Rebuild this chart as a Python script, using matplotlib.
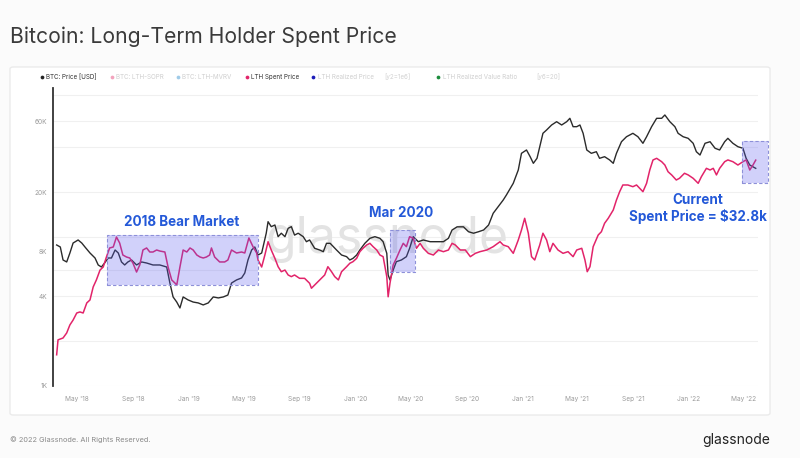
import matplotlib
matplotlib.use("Agg")
import matplotlib.pyplot as plt
import matplotlib.dates as mdates
from matplotlib.patches import Rectangle, FancyBboxPatch
from matplotlib.lines import Line2D
from matplotlib.ticker import NullLocator
import pandas as pd

plt.rcParams['font.family'] = ['Inter', 'DejaVu Sans']

# ---------------- data (USD, thousands) ----------------
price_dates = [
    "2018-03-18", "2018-03-26", "2018-04-01", "2018-04-09", "2018-04-16", "2018-04-23", "2018-05-04", "2018-05-12", "2018-05-19", "2018-05-30",
    "2018-06-10", "2018-06-17", "2018-06-24", "2018-07-01", "2018-07-09", "2018-07-16", "2018-07-24", "2018-07-31", "2018-08-07", "2018-08-14",
    "2018-08-21", "2018-08-29", "2018-09-09", "2018-09-20", "2018-10-01", "2018-10-15", "2018-10-30", "2018-11-14", "2018-11-21", "2018-11-28",
    "2018-12-06", "2018-12-13", "2018-12-20", "2018-12-31", "2019-01-11", "2019-01-22", "2019-02-02", "2019-02-13", "2019-02-24", "2019-03-07",
    "2019-03-18", "2019-03-28", "2019-04-05", "2019-04-16", "2019-04-27", "2019-05-04", "2019-05-11", "2019-05-19", "2019-05-26", "2019-06-02",
    "2019-06-10", "2019-06-20", "2019-06-24", "2019-07-01", "2019-07-09", "2019-07-16", "2019-07-23", "2019-07-31", "2019-08-07", "2019-08-14",
    "2019-08-21", "2019-08-29", "2019-09-09", "2019-09-16", "2019-09-23", "2019-10-04", "2019-10-15", "2019-10-23", "2019-10-30", "2019-11-07",
    "2019-11-14", "2019-11-21", "2019-12-02", "2019-12-13", "2019-12-20", "2019-12-27", "2020-01-04", "2020-01-11", "2020-01-22", "2020-02-02",
    "2020-02-13", "2020-02-24", "2020-03-02", "2020-03-10", "2020-03-13", "2020-03-17", "2020-03-24", "2020-03-31", "2020-04-11", "2020-04-22",
    "2020-04-29", "2020-05-07", "2020-05-18", "2020-05-29", "2020-06-13", "2020-06-28", "2020-07-12", "2020-07-23", "2020-07-31", "2020-08-11",
    "2020-08-25", "2020-09-05", "2020-09-16", "2020-09-27", "2020-10-08", "2020-10-19", "2020-10-29", "2020-11-09", "2020-11-20", "2020-11-27",
    "2020-12-12", "2020-12-23", "2020-12-30", "2021-01-10", "2021-01-18", "2021-01-25", "2021-02-02", "2021-02-08", "2021-02-15", "2021-02-23",
    "2021-03-06", "2021-03-17", "2021-03-28", "2021-04-08", "2021-04-15", "2021-04-22", "2021-04-30", "2021-05-07", "2021-05-14", "2021-05-22",
    "2021-06-01", "2021-06-12", "2021-06-19", "2021-06-30", "2021-07-11", "2021-07-19", "2021-07-26", "2021-08-06", "2021-08-17", "2021-08-31",
    "2021-09-11", "2021-09-22", "2021-09-30", "2021-10-11", "2021-10-22", "2021-11-02", "2021-11-09", "2021-11-20", "2021-12-01", "2021-12-08",
    "2021-12-19", "2021-12-30", "2022-01-10", "2022-01-17", "2022-01-25", "2022-02-05", "2022-02-16", "2022-02-27", "2022-03-09", "2022-03-20",
    "2022-03-27", "2022-04-07", "2022-04-18", "2022-04-29", "2022-05-06", "2022-05-14", "2022-05-21", "2022-05-27",
]
price_k = [
    8.84, 8.57, 7.01, 6.80, 7.81, 9.11, 9.55, 9.11, 8.57, 7.81,
    7.23, 6.49, 6.29, 6.69, 7.23, 7.23, 8.18, 7.81, 6.80, 6.49,
    6.80, 7.01, 6.49, 6.80, 6.69, 6.49, 6.49, 6.29, 4.91, 3.96,
    3.66, 3.34, 3.96, 3.78, 3.66, 3.61, 3.50, 3.61, 3.96, 3.90,
    3.96, 4.08, 4.91, 5.15, 5.31, 5.73, 7.01, 8.18, 8.57, 7.57,
    7.81, 10.6, 12.67, 11.73, 12.04, 10.05, 10.6, 10.05, 11.44, 11.73,
    10.3, 10.6, 10.05, 9.30, 9.55, 8.40, 8.18, 7.97, 9.07, 9.07,
    8.61, 8.18, 7.57, 7.38, 7.01, 7.19, 7.57, 8.18, 9.07, 9.80,
    10.05, 9.80, 9.30, 7.77, 5.56, 5.15, 6.00, 6.83, 7.01, 7.38,
    8.40, 10.05, 9.30, 9.55, 9.30, 9.30, 9.30, 9.80, 11.14, 11.7,
    11.7, 10.85, 10.6, 10.85, 11.14, 12.04, 14.42, 15.97, 17.71, 19.14,
    22.93, 28.17, 36.45, 38.37, 34.59, 31.23, 33.74, 40.37, 49.65, 52.26,
    56.46, 59.4, 56.46, 59.4, 62.6, 55.0, 55.0, 56.46, 49.65, 38.37,
    36.45, 37.36, 33.74, 34.59, 32.9, 31.23, 36.45, 43.6, 47.1, 49.65,
    47.1, 42.55, 47.1, 55.0, 62.6, 62.6, 65.9, 59.4, 55.0, 49.65,
    47.1, 45.96, 42.55, 37.36, 35.5, 42.55, 43.6, 39.4, 38.37, 43.6,
    45.96, 42.55, 40.37, 39.4, 33.74, 30.4, 29.6, 28.9,
]

spent_dates = [
    "2018-03-18", "2018-03-21", "2018-04-01", "2018-04-09", "2018-04-16", "2018-04-23", "2018-05-01", "2018-05-08", "2018-05-15", "2018-05-23",
    "2018-05-30", "2018-06-06", "2018-06-13", "2018-06-21", "2018-06-28", "2018-07-05", "2018-07-12", "2018-07-20", "2018-07-27", "2018-08-03",
    "2018-08-10", "2018-08-18", "2018-08-25", "2018-09-01", "2018-09-09", "2018-09-16", "2018-09-23", "2018-10-01", "2018-10-08", "2018-10-15",
    "2018-10-23", "2018-10-30", "2018-11-10", "2018-11-17", "2018-11-25", "2018-12-02", "2018-12-06", "2018-12-13", "2018-12-20", "2018-12-28",
    "2019-01-04", "2019-01-11", "2019-01-19", "2019-01-26", "2019-02-02", "2019-02-09", "2019-02-16", "2019-02-20", "2019-02-27", "2019-03-10",
    "2019-03-21", "2019-03-28", "2019-04-05", "2019-04-16", "2019-04-27", "2019-05-04", "2019-05-13", "2019-05-22", "2019-05-30", "2019-06-02",
    "2019-06-10", "2019-06-17", "2019-06-24", "2019-07-01", "2019-07-09", "2019-07-16", "2019-07-23", "2019-07-31", "2019-08-07", "2019-08-14",
    "2019-08-21", "2019-09-01", "2019-09-12", "2019-09-23", "2019-09-27", "2019-10-04", "2019-10-15", "2019-10-26", "2019-11-02", "2019-11-10",
    "2019-11-17", "2019-11-25", "2019-12-02", "2019-12-13", "2019-12-20", "2019-12-27", "2020-01-04", "2020-01-11", "2020-01-18", "2020-01-26",
    "2020-02-02", "2020-02-09", "2020-02-17", "2020-02-24", "2020-03-02", "2020-03-10", "2020-03-13", "2020-03-17", "2020-03-24", "2020-03-31",
    "2020-04-08", "2020-04-15", "2020-04-22", "2020-04-29", "2020-05-07", "2020-05-14", "2020-05-22", "2020-05-29", "2020-06-09", "2020-06-20",
    "2020-07-01", "2020-07-12", "2020-07-23", "2020-07-31", "2020-08-07", "2020-08-18", "2020-08-29", "2020-09-09", "2020-09-20", "2020-09-30",
    "2020-10-15", "2020-10-29", "2020-11-13", "2020-11-20", "2020-12-01", "2020-12-12", "2020-12-23", "2020-12-30", "2021-01-06", "2021-01-14",
    "2021-01-21", "2021-01-28", "2021-02-08", "2021-02-15", "2021-02-23", "2021-03-02", "2021-03-09", "2021-03-20", "2021-03-31", "2021-04-11",
    "2021-04-22", "2021-04-30", "2021-05-11", "2021-05-18", "2021-05-23", "2021-05-29", "2021-06-05", "2021-06-16", "2021-06-23", "2021-06-30",
    "2021-07-08", "2021-07-19", "2021-07-26", "2021-08-02", "2021-08-09", "2021-08-20", "2021-08-31", "2021-09-08", "2021-09-15", "2021-09-22",
    "2021-09-30", "2021-10-07", "2021-10-14", "2021-10-22", "2021-11-02", "2021-11-09", "2021-11-16", "2021-11-24", "2021-12-04", "2021-12-11",
    "2021-12-22", "2021-12-30", "2022-01-10", "2022-01-21", "2022-01-28", "2022-02-08", "2022-02-16", "2022-02-23", "2022-03-02", "2022-03-09",
    "2022-03-20", "2022-03-27", "2022-04-07", "2022-04-18", "2022-04-29", "2022-05-06", "2022-05-14", "2022-05-21", "2022-05-27",
]
spent_k = [
    1.62, 2.04, 2.10, 2.27, 2.57, 2.77, 3.09, 3.14, 3.09, 3.61,
    3.78, 4.62, 5.15, 6.00, 6.29, 7.34, 8.44, 8.57, 10.0, 9.11,
    7.57, 7.34, 7.23, 6.69, 5.82, 6.49, 8.18, 8.44, 7.93, 7.93,
    8.18, 8.05, 7.93, 6.29, 5.15, 4.91, 4.76, 6.29, 8.18, 7.93,
    8.44, 8.18, 7.57, 7.34, 7.23, 7.34, 7.57, 8.44, 7.34, 6.80,
    6.80, 7.01, 8.18, 7.81, 7.93, 7.81, 9.85, 8.61, 7.81, 7.01,
    6.29, 7.57, 9.30, 8.18, 7.19, 6.32, 5.85, 6.00, 5.56, 5.42,
    5.56, 5.28, 5.28, 4.89, 4.53, 4.76, 5.15, 5.56, 6.32, 5.85,
    5.42, 5.15, 5.85, 6.32, 6.66, 6.83, 7.19, 7.97, 8.40, 8.84,
    9.07, 8.61, 8.18, 7.57, 7.38, 5.42, 3.97, 4.89, 6.49, 7.19,
    8.18, 9.07, 8.61, 10.05, 9.80, 8.40, 9.07, 8.40, 7.77, 7.57,
    8.18, 7.97, 8.18, 9.07, 8.84, 8.18, 8.18, 7.38, 7.77, 7.97,
    8.18, 8.61, 9.30, 8.84, 8.61, 7.77, 9.55, 11.14, 13.35, 10.59,
    7.38, 7.01, 8.84, 10.6, 9.55, 7.97, 9.07, 8.18, 7.77, 7.97,
    7.38, 8.18, 8.40, 7.01, 5.85, 6.32, 8.61, 10.31, 10.85, 12.36,
    13.35, 15.18, 17.71, 20.14, 22.34, 22.34, 21.76, 22.34, 21.22, 20.14,
    22.93, 28.17, 32.87, 33.74, 32.02, 30.42, 27.42, 26.07, 24.13, 24.77,
    26.77, 26.1, 24.77, 22.93, 25.39, 28.9, 28.17, 28.9, 26.1, 28.9,
    32.02, 32.9, 32.02, 30.42, 32.02, 32.9, 28.17, 30.42, 32.8,
]

x_tick_dates = ["2018-05-01", "2018-09-01", "2019-01-01", "2019-05-01", "2019-09-01", "2020-01-01", "2020-05-01",
                "2020-09-01", "2021-01-01", "2021-05-01", "2021-09-01", "2022-01-01", "2022-05-01"]
x_tick_labels = ["May '18", "Sep '18", "Jan '19", "May '19", "Sep '19", "Jan '20", "May '20",
                 "Sep '20", "Jan '21", "May '21", "Sep '21", "Jan '22", "May '22"]
y_tick_values = [1000, 4000, 8000, 20000, 60000]
y_tick_labels = ["1K", "4K", "8K", "20K", "60K"]
grid_values = [1000, 2000, 4000, 6000, 10000, 20000, 40000, 60000, 90000]

# highlight boxes: (start, end, low, high)
highlight_boxes = [
    ("2018-07-06", "2019-06-01", 4770, 10300),
    ("2020-03-17", "2020-05-10", 5830, 11100),
    ("2022-04-27", "2022-06-22", 23000, 44100),
]

legend_items = [
    ("BTC: Price [USD]", "#222222", "#333333"),
    ("BTC: LTH-SOPR", "#f3a3bd", "#cfcfcf"),
    ("BTC: LTH-MVRV", "#9fcbe8", "#cfcfcf"),
    ("LTH Spent Price", "#e2246a", "#333333"),
    ("LTH Realized Price", "#1c1cb8", "#cfcfcf"),
    ("[y2=1e6]", None, "#d2d2d2"),
    ("LTH Realized Value Ratio", "#1c8c3c", "#cfcfcf"),
    ("[y6=20]", None, "#d2d2d2"),
]
legend_x_px = [41.7, 111.7, 177.7, 246.7, 313.3, 384, 438.3, 536]

# ---------------- figure ----------------
W, H = 800, 458
fig = plt.figure(figsize=(W / 100, H / 100), dpi=100, facecolor="#fbfbfb")

panel = FancyBboxPatch((10 / W, 1 - 415 / H), 760 / W, 348 / H,
                       boxstyle="round,pad=0,rounding_size=0.004",
                       transform=fig.transFigure, facecolor="white",
                       edgecolor="#ebebeb", lw=1.0, zorder=0)
fig.add_artist(panel)

ax = fig.add_axes([53 / W, 1 - 386 / H, (758 - 53) / W, (386 - 88) / H])
ax.set_facecolor("none")

pd_price = pd.to_datetime(price_dates)
pd_spent = pd.to_datetime(spent_dates)
price = [v * 1000 for v in price_k]
spent = [v * 1000 for v in spent_k]

ax.set_yscale("log")
ax.set_ylim(1000, 100000)
ax.set_xlim(pd.Timestamp("2018-03-10"), pd.Timestamp("2022-06-01"))

for g in grid_values:
    ax.axhline(g, color="#f0f0f0", lw=0.8, zorder=0)

ax.text(0.474, 0.49, "glassnode", transform=ax.transAxes, ha="center", va="center",
        fontsize=36, color="#e3e3e3", zorder=0.5)

ax.plot(pd_price, price, color="#2b2b2b", lw=1.0, zorder=3)
ax.plot(pd_spent, spent, color="#e2246a", lw=1.1, zorder=4)

for s, e, lo, hi in highlight_boxes:
    x0 = mdates.date2num(pd.Timestamp(s))
    x1 = mdates.date2num(pd.Timestamp(e))
    r = Rectangle((x0, lo), x1 - x0, hi - lo, facecolor="#5a5cf0", alpha=0.28,
                  edgecolor="none", zorder=5, clip_on=False)
    ax.add_patch(r)
    r2 = Rectangle((x0, lo), x1 - x0, hi - lo, facecolor="none",
                   edgecolor="#8d90d8", lw=0.8, ls=(0, (3, 2)), zorder=5, clip_on=False)
    ax.add_patch(r2)

blue = "#2459d8"
ax.text(pd.Timestamp("2018-12-16"), 12670, "2018 Bear Market", ha="center", va="center",
        fontsize=9.7, fontweight="bold", color=blue, zorder=6)
ax.text(pd.Timestamp("2020-04-11"), 14420, "Mar 2020", ha="center", va="center",
        fontsize=9.7, fontweight="bold", color=blue, zorder=6)
ax.text(pd.Timestamp("2022-01-21"), 15500, "Current\nSpent Price = $32.8k", ha="center", va="center",
        multialignment="center", linespacing=1.15,
        fontsize=9.7, fontweight="bold", color=blue, zorder=6)

# axes styling
for side in ["top", "right", "bottom"]:
    ax.spines[side].set_visible(False)
ax.spines["left"].set_color("#333333")
ax.spines["left"].set_linewidth(1.3)
ax.yaxis.set_minor_locator(NullLocator())
ax.set_yticks(y_tick_values)
ax.set_yticklabels(y_tick_labels)
ax.set_xticks(pd.to_datetime(x_tick_dates))
ax.set_xticklabels(x_tick_labels)
ax.tick_params(axis="both", length=0, labelsize=4.7, labelcolor="#9a9a9a")
ax.tick_params(axis="y", pad=4)
ax.tick_params(axis="x", pad=7)

# legend
ly = 1 - 77 / H
for (label, dot, tc), xp in zip(legend_items, legend_x_px):
    if dot is not None:
        fig.add_artist(Line2D([xp / W], [ly], marker="o", markersize=2.7, color=dot,
                              markeredgewidth=0, transform=fig.transFigure))
        fig.text((xp + 4.5) / W, ly, label, fontsize=4.5, color=tc, va="center", ha="left")
    else:
        fig.text(xp / W, ly, label, fontsize=4.5, color=tc, va="center", ha="left")

# title & footer
fig.text(10 / W, 1 - 37 / H, "Bitcoin: Long-Term Holder Spent Price", fontsize=15.2,
         color="#3a3a3a", va="center", ha="left")
fig.text(10 / W, 1 - 440 / H, "\u00a9 2022 Glassnode. All Rights Reserved.", fontsize=5.3,
         color="#8a8a8a", va="center", ha="left")
fig.text(770 / W, 1 - 440 / H, "glassnode", fontsize=10, color="#222222",
         va="center", ha="right")

fig.savefig("out.png", dpi=100, facecolor=fig.get_facecolor())
